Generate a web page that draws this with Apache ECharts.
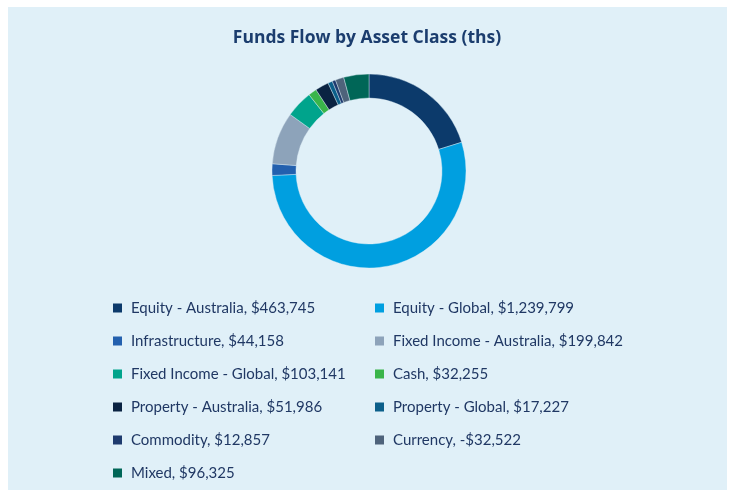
<!DOCTYPE html>
<html>
<head>
<meta charset="utf-8">
<script src="https://cdn.jsdelivr.net/npm/echarts@6/dist/echarts.min.js"></script>
<style>
html,body{margin:0;padding:0;background:#ffffff;}
#c{width:734px;height:492px;}
</style>
</head>
<body>
<div id="c"></div>
<script>
const categories = [
  'Equity - Australia', 'Equity - Global', 'Infrastructure', 'Fixed Income - Australia',
  'Fixed Income - Global', 'Cash', 'Property - Australia', 'Property - Global',
  'Commodity', 'Currency', 'Mixed'
];
const flows = [463745, 1239799, 44158, 199842, 103141, 32255, 51986, 17227, 12857, -32522, 96325];
const colors = ['#0C3A6B', '#009FE0', '#2360AE', '#8DA3BA', '#00A48C', '#3AB54A', '#0A2342', '#0B5F8A', '#1E3A6E', '#4E637B', '#006657'];

function fmt(v) {
  const s = Math.abs(v).toLocaleString('en-US');
  return (v < 0 ? '-$' : '$') + s;
}
const valueByName = {};
categories.forEach((c, i) => { valueByName[c] = flows[i]; });

const pieData = categories.map((c, i) => ({
  name: c,
  value: Math.abs(flows[i]),
  itemStyle: { color: colors[i] }
}));

const leftNames = categories.filter((c, i) => i % 2 === 0);
const rightNames = categories.filter((c, i) => i % 2 === 1);

const legendCommon = {
  orient: 'vertical',
  icon: 'rect',
  itemWidth: 9,
  itemHeight: 9,
  itemGap: 15,
  top: 299,
  padding: 0,
  selectedMode: false,
  itemStyle: { borderWidth: 0 },
  formatter: name => name + ', ' + fmt(valueByName[name]),
  textStyle: {
    fontFamily: 'Lato',
    fontSize: 15,
    lineHeight: 18,
    color: '#203864',
    padding: [0, 0, 0, 4]
  }
};

const chart = echarts.init(document.getElementById('c'));
chart.setOption({
  animation: false,
  graphic: [{
    type: 'rect',
    z: -10,
    silent: true,
    shape: { x: 8, y: 7, width: 719, height: 483 },
    style: { fill: '#E0F0F8' }
  }],
  title: {
    text: 'Funds Flow by Asset Class (ths)',
    left: 'center',
    top: 24,
    textStyle: {
      fontFamily: 'Open Sans',
      fontSize: 17.5,
      fontWeight: 'bold',
      color: '#1B3D6E'
    }
  },
  legend: [
    Object.assign({}, legendCommon, { left: 113, data: leftNames }),
    Object.assign({}, legendCommon, { left: 375, data: rightNames })
  ],
  series: [{
    type: 'pie',
    center: [369, 171],
    radius: [73, 97],
    startAngle: 90,
    clockwise: true,
    avoidLabelOverlap: false,
    label: { show: false },
    labelLine: { show: false },
    emphasis: { disabled: true },
    itemStyle: { borderColor: '#E0F0F8', borderWidth: 0.4 },
    data: pieData
  }]
});
</script>
</body>
</html>
